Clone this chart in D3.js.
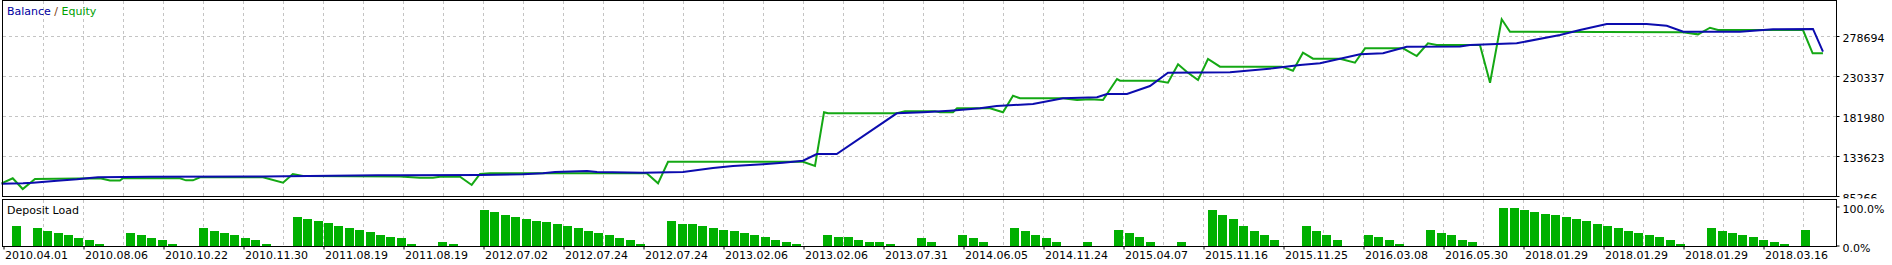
<!DOCTYPE html>
<html>
<head>
<meta charset="utf-8">
<script src="https://cdn.jsdelivr.net/npm/d3@7"></script>
<style>
  body { margin: 0; background: #fff; }
  svg { display: block; font-family: "DejaVu Sans", sans-serif; font-size: 11px; }
</style>
</head>
<body>
<div id="chart"></div>
<script>
const width = 1892, height = 265;

// x axis labels (one every 80px in the original)
const xLabels = ["2010.04.01","2010.08.06","2010.10.22","2010.11.30","2011.08.19","2011.08.19",
  "2012.07.02","2012.07.24","2012.07.24","2013.02.06","2013.02.06","2013.07.31","2014.06.05",
  "2014.11.24","2015.04.07","2015.11.16","2015.11.25","2016.03.08","2016.05.30","2018.01.29",
  "2018.01.29","2018.01.29","2018.03.16"];

const yTicks = [85266, 133623, 181980, 230337, 278694];
const loadTicks = [0, 100];

// [trade index, value]
const balance = [[0,100000],[2.06,100600],[3.02,101300],[4.17,102600],[5.33,103800],[7.25,105500],
  [8.21,106700],[9.27,107900],[14.27,108600],[25.13,108800],[36.19,110300],[38.31,110300],[46,110700],
  [50.13,111500],[52.06,112700],[53.21,114300],[56.29,115500],[57.25,114300],[61.67,113400],[65.52,114300],
  [68.4,119100],[70.33,121500],[73.21,123600],[75.13,125500],[77.06,127900],[78.38,136000],[80.3,136000],
  [86.07,185200],[88.6,186500],[91.19,188400],[94.08,191300],[95.68,194100],[99.17,196500],[102.06,203400],
  [105.33,204600],[106.29,208600],[108.21,208600],[110.42,218200],[112.15,234300],[118.12,234800],
  [122.25,239600],[124.85,243600],[126.77,245700],[130.62,256600],[132.83,257800],[135.11,265800],
  [140.23,266000],[141.19,267800],[145.68,269900],[149.85,279900],[151.77,285900],[154.34,293200],
  [158.18,293200],[160.11,291100],[161.7,283900],[167.15,283900],[170.33,286800],[174.17,287200],
  [175.13,259700]];

const equity = [[0,100600],[1.07,106700],[2.03,93700],[3.21,105800],[9.46,106700],[10.42,104000],
  [11.38,104000],[11.67,106700],[17.15,106700],[17.73,104200],[18.4,104200],[19.08,107900],[25.13,107900],
  [27.06,101300],[28,111900],[28.98,109400],[38.31,108800],[40.23,107400],[41.48,107400],[42.15,108600],
  [44.08,108600],[45.2,98600],[46,111900],[46.96,112700],[62.03,112700],[63.12,100600],[64.08,126700],
  [77.06,126700],[78.21,121500],[79.08,186500],[79.46,185200],[86.07,185200],[86.87,187600],[89.75,187600],
  [90.23,186500],[91.48,186500],[91.87,191300],[95.04,191300],[96.29,186500],[97.25,206500],[97.92,203400],
  [102.06,203400],[103.4,201300],[104.65,202100],[105.9,201300],[107.25,226700],[107.54,224700],
  [111.07,224700],[112.15,222200],[113.12,244500],[113.95,235500],[115.04,225500],[116,250900],
  [117.15,241600],[123.09,241600],[124.17,236700],[125.13,258500],[126.1,251300],[128.69,251300],
  [130.13,246400],[131.1,263800],[134.75,263800],[136.07,254500],[137.15,269900],[137.99,267800],
  [142.15,267800],[143.12,222200],[144.24,298900],[145.04,283900],[161.67,283200],[163.12,280700],
  [164.27,288700],[165.04,285900],[173.21,285900],[174.14,257800],[175.13,257800]];

// deposit load, % per trade slot
const depositLoad = [0,51,0,46,38,33,26,18,13,5, 0,0,31,26,18,13,5,0,0,44,
  38,31,26,18,13,5,0,0,72,69, 64,57,51,46,41,34,28,23,18,5, 0,0,10,5,0,0,90,85,79,74,
  69,64,59,54,49,44,36,31,26,18, 13,5,0,0,62,56,54,49,44,41, 36,31,26,21,15,10,5,0,0,28,
  23,21,15,10,8,3,0,0,18,8, 0,0,26,18,8,0,0,46,38,28, 18,8,0,0,10,0,0,41,31,21,
  8,0,0,10,0,0,90,79,67,51, 38,26,13,0,0,49,38,26,13,0, 0,28,21,13,5,0,0,41,33,26,
  15,8,0,0,97,97,92,87,82,77, 72,67,62,56,51,46,38,33,28,21, 13,5,0,0,44,38,33,28,21,15,
  10,5,0,41];

const svg = d3.select("#chart")
  .append("svg")
  .attr("width", width)
  .attr("height", height);

const x = d3.scaleLinear().domain([0, 176.5]).range([1.6, 1837.2]);
const y = d3.scaleLinear().domain([85266, 278694]).range([196, 36]);
const yLoad = d3.scaleLinear().domain([0, 100]).range([245.5, 206.5]);
const xTick = d3.scalePoint().domain(d3.range(xLabels.length)).range([3.5, 1763.5]);

const gridColor = "#c4c4c4";

// vertical grid: at every label and halfway between
const gridX = d3.range(xLabels.length)
  .flatMap(i => [xTick(i), xTick(i) + xTick.step() / 2])
  .filter(v => v > 10);

svg.append("g")
  .selectAll("line")
  .data(gridX)
  .join("line")
  .attr("x1", d => d).attr("x2", d => d)
  .attr("y1", 1).attr("y2", 196)
  .attr("stroke", gridColor)
  .attr("stroke-dasharray", "3,3");

svg.append("g")
  .selectAll("line")
  .data(gridX)
  .join("line")
  .attr("x1", d => d).attr("x2", d => d)
  .attr("y1", 200).attr("y2", 246)
  .attr("stroke", gridColor)
  .attr("stroke-dasharray", "3,3");

// horizontal grid in main panel
svg.append("g")
  .selectAll("line")
  .data(yTicks.slice(1))
  .join("line")
  .attr("x1", 3).attr("x2", 1836)
  .attr("y1", d => Math.round(y(d)) + 0.5).attr("y2", d => Math.round(y(d)) + 0.5)
  .attr("stroke", gridColor)
  .attr("stroke-dasharray", "3,3");

// deposit load bars
svg.append("g")
  .selectAll("rect")
  .data(depositLoad.map((v, i) => ({ i, v })).filter(d => d.v > 0))
  .join("rect")
  .attr("x", d => Math.round(x(d.i)))
  .attr("width", 9)
  .attr("y", d => Math.round(yLoad(d.v)))
  .attr("height", d => Math.round(yLoad(0)) - Math.round(yLoad(d.v)) + 1)
  .attr("fill", "#00b000");

// lines
const line = d3.line()
  .x(d => x(d[0]))
  .y(d => y(d[1]));

svg.append("path")
  .datum(equity)
  .attr("d", line)
  .attr("fill", "none")
  .attr("stroke", "#14a814")
  .attr("stroke-width", 2)
  .attr("stroke-linejoin", "miter");

svg.append("path")
  .datum(balance)
  .attr("d", line)
  .attr("fill", "none")
  .attr("stroke", "#0c0cae")
  .attr("stroke-width", 2);

// frames
svg.append("rect")
  .attr("x", 2.5).attr("y", 0.5)
  .attr("width", 1834).attr("height", 196)
  .attr("fill", "none").attr("stroke", "#000");

svg.append("rect")
  .attr("x", 2.5).attr("y", 199.5)
  .attr("width", 1834).attr("height", 47)
  .attr("fill", "none").attr("stroke", "#000");

// axes (the bottom main label is cut by the lower panel)
svg.append("clipPath").attr("id", "mainClip")
  .append("rect").attr("x", -1).attr("y", 0).attr("width", 60).attr("height", 198.5);

const yAxis = svg.append("g")
  .attr("transform", "translate(1836.5,0)")
  .attr("clip-path", "url(#mainClip)")
  .call(d3.axisRight(y).tickValues(yTicks).tickSize(3).tickFormat(d3.format("d")));

const loadAxis = svg.append("g")
  .attr("transform", "translate(1836.5,0)")
  .call(d3.axisRight(yLoad).tickValues(loadTicks).tickSize(3).tickFormat(d => d.toFixed(1) + "%"));

const xAxis = svg.append("g")
  .attr("transform", "translate(0,246.5)")
  .call(d3.axisBottom(xTick).tickSize(3).tickFormat(i => xLabels[i]));

for (const g of [yAxis, loadAxis, xAxis]) {
  g.select(".domain").remove();
  g.attr("font-family", null).attr("font-size", null);
  g.selectAll("text").attr("fill", "#000");
  g.selectAll(".tick line").attr("stroke", "#000");
}
yAxis.selectAll("text").attr("dy", "0.5em");
loadAxis.selectAll("text").attr("dy", "0.5em");
xAxis.selectAll("text").attr("text-anchor", "start").attr("x", 1).attr("y", 5);

// titles
const title = svg.append("text").attr("x", 7).attr("y", 15);
title.append("tspan").attr("fill", "#0000a0").text("Balance");
title.append("tspan").attr("fill", "#7a3c10").text(" / ");
title.append("tspan").attr("fill", "#00a000").text("Equity");

svg.append("text")
  .attr("x", 7).attr("y", 213.5)
  .attr("fill", "#000")
  .text("Deposit Load");
</script>
</body>
</html>
